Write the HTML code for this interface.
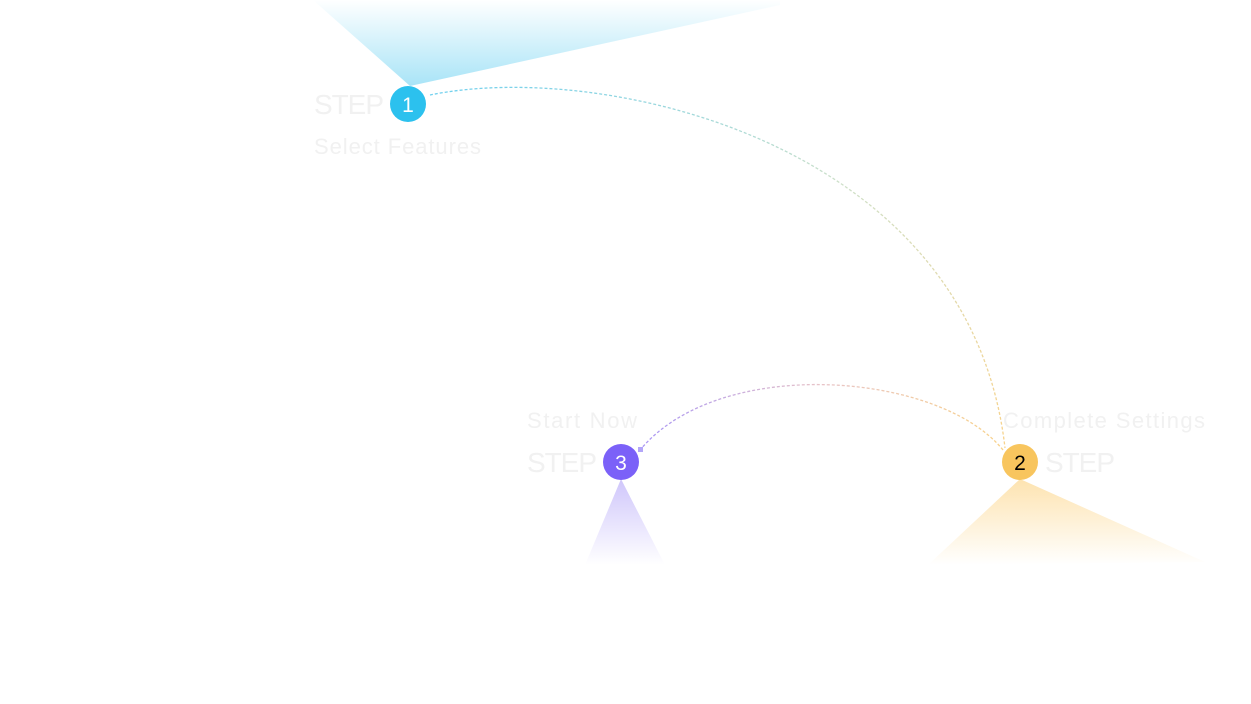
<!DOCTYPE html>
<html><head><style>body{margin:0;background:#fff}svg{display:block}</style></head>
<body>
<svg width="1251" height="704" viewBox="0 0 1251 704" xmlns="http://www.w3.org/2000/svg" font-family="Liberation Sans, sans-serif">
<defs>
<linearGradient id="b1" x1="0" y1="1" x2="0" y2="0"><stop offset="0" stop-color="#a9e4f7"/><stop offset="1" stop-color="#a9e4f7" stop-opacity="0"/></linearGradient>
<linearGradient id="b3" x1="0" y1="0" x2="0" y2="1"><stop offset="0" stop-color="#cfc6fb"/><stop offset="1" stop-color="#cfc6fb" stop-opacity="0"/></linearGradient>
<linearGradient id="b2" x1="0" y1="0" x2="0" y2="1"><stop offset="0" stop-color="#fde3b0"/><stop offset="1" stop-color="#fde3b0" stop-opacity="0"/></linearGradient>
<linearGradient id="a1" x1="0" y1="0" x2="1" y2="1"><stop offset="0" stop-color="#6fd0ef"/><stop offset="0.5" stop-color="#cfe0c8"/><stop offset="1" stop-color="#f8d28a"/></linearGradient>
<linearGradient id="a2" x1="1" y1="0" x2="0" y2="0"><stop offset="0" stop-color="#f8d28a"/><stop offset="0.5" stop-color="#e8c4c8"/><stop offset="1" stop-color="#a996f5"/></linearGradient>
</defs>
<polygon points="313,0 780,0 780,5 410,86" fill="url(#b1)"/>
<polygon points="621,479 585,565 665,565" fill="url(#b3)"/>
<polygon points="1020,479 928,565 1205,562" fill="url(#b2)"/>
<path d="M430,95 C600,60 970,140 1005,448" fill="none" stroke="url(#a1)" stroke-width="1.3" stroke-dasharray="3,2"/>
<path d="M1003,450 C940,372 720,354 640,450" fill="none" stroke="url(#a2)" stroke-width="1.3" stroke-dasharray="3,2"/>
<rect x="638" y="447" width="5" height="5" fill="#b3a6f8"/>
<circle cx="408" cy="104" r="18" fill="#2cc1ee"/>
<text x="408" y="112" font-size="21" fill="#fff" text-anchor="middle">1</text>
<circle cx="621" cy="462" r="18" fill="#7b61f8"/>
<text x="621" y="470" font-size="21" fill="#fff" text-anchor="middle">3</text>
<circle cx="1020" cy="462" r="18" fill="#f8c55e"/>
<text x="1020" y="470" font-size="21" fill="#000" text-anchor="middle">2</text>
<g fill="#f1f1f1">
<text x="314" y="114" font-size="28" textLength="70">STEP</text>
<text x="314" y="154" font-size="22" textLength="167">Select Features</text>
<text x="527" y="428" font-size="22" textLength="110">Start Now</text>
<text x="527" y="472" font-size="28" textLength="70">STEP</text>
<text x="1003" y="428" font-size="22" textLength="202">Complete Settings</text>
<text x="1045" y="472" font-size="28" textLength="70">STEP</text>
</g>
</svg>
</body></html>
